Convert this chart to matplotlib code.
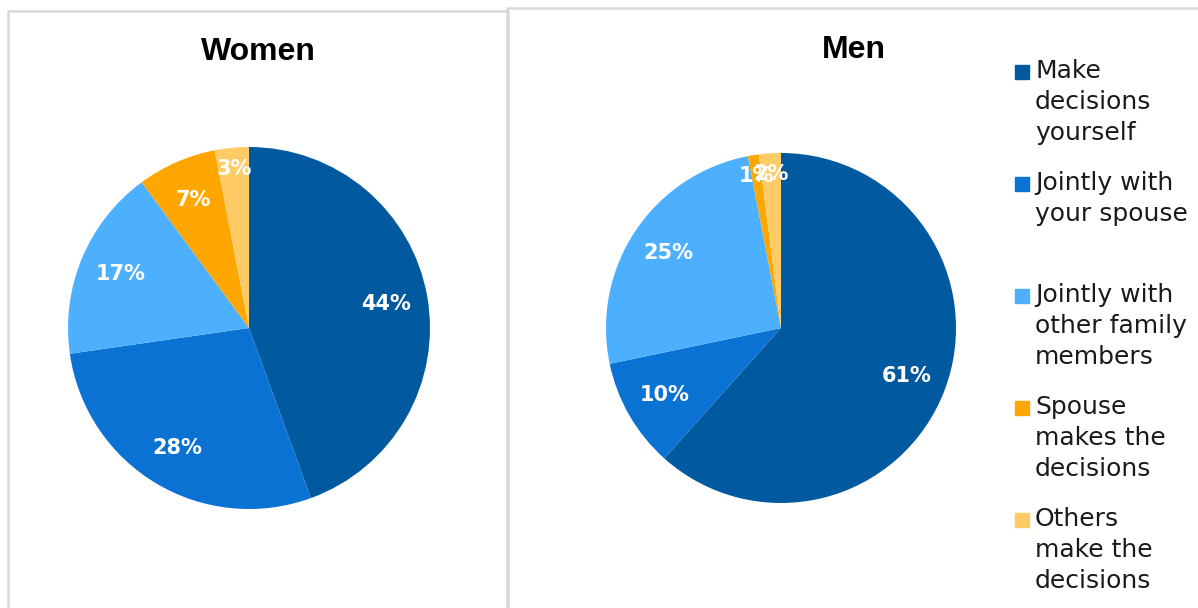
import matplotlib.pyplot as plt
from matplotlib.patches import Rectangle
import numpy as np

# decision-making shares by sex
categories = ["Make\ndecisions\nyourself", "Jointly with\nyour spouse",
              "Jointly with\nother family\nmembers", "Spouse\nmakes the\ndecisions",
              "Others\nmake the\ndecisions"]
women = [44, 28, 17, 7, 3]
men = [61, 10, 25, 1, 2]
colors = ["#01599F", "#0A72D2", "#4DB0FF", "#FFA600", "#FFCB66"]

W, H = 1198, 608
fig = plt.figure(figsize=(W / 100, H / 100), dpi=100)


def px_axes(cx, cy, r):
    # square axes centred on a pixel position (y from the top)
    return fig.add_axes([(cx - r) / W, (H - cy - r) / H, 2 * r / W, 2 * r / H])


def draw_pie(ax, values):
    wedges, texts = ax.pie(values, colors=colors, startangle=90, counterclock=False,
                           wedgeprops=dict(linewidth=0))
    for w, v in zip(wedges, values):
        mid = np.deg2rad((w.theta1 + w.theta2) / 2)
        dist = 0.77 if v >= 5 else 0.88
        ax.text(dist * np.cos(mid), dist * np.sin(mid), f"{v}%", color="white",
                fontsize=15, fontweight="bold", family="DejaVu Sans",
                ha="center", va="center")
    ax.set_xlim(-1, 1)
    ax.set_ylim(-1, 1)
    ax.set_aspect("equal")
    ax.axis("off")


# panel borders
border = "#D9D9D9"
fig.patches.append(Rectangle((8 / W, -0.1), 500 / W, (H - 11) / H + 0.1,
                             transform=fig.transFigure, fill=False,
                             edgecolor=border, linewidth=1.8))
fig.patches.append(Rectangle((507 / W, -0.1), 0.7, (H - 8) / H + 0.1,
                             transform=fig.transFigure, fill=False,
                             edgecolor=border, linewidth=1.8))

ax_w = px_axes(249, 328, 181)
draw_pie(ax_w, women)
ax_m = px_axes(781, 328, 175)
draw_pie(ax_m, men)

fig.text(258 / W, 1 - 52 / H, "Women", ha="center", va="center",
         fontsize=23, fontweight="bold", family="Liberation Sans")
fig.text(854 / W, 1 - 50 / H, "Men", ha="center", va="center",
         fontsize=23, fontweight="bold", family="Liberation Sans")

# legend, one slot per category
for i, (lab, c) in enumerate(zip(categories, colors)):
    top = 59 + i * 112
    fig.patches.append(Rectangle((1015 / W, 1 - (top + 20) / H), 14 / W, 14 / H,
                                 transform=fig.transFigure, color=c))
    fig.text(1035 / W, 1 - top / H, lab, ha="left", va="top", fontsize=18,
             family="DejaVu Sans", color="#1a1a1a", linespacing=1.38)

fig.savefig("out.png", dpi=100, facecolor="white")
